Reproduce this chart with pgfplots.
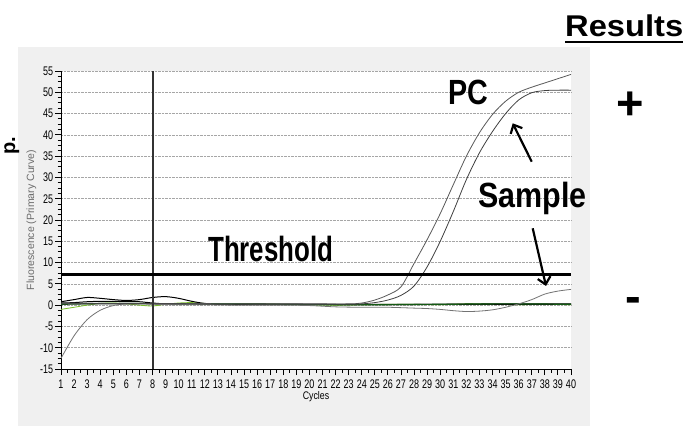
\documentclass[border=0pt]{standalone}
\usepackage{fontspec}
\setmainfont{Liberation Sans}
\usepackage{pgfplots}
\pgfplotsset{compat=1.18}
\usetikzlibrary{arrows.meta}

\definecolor{panel}{RGB}{240,240,240}
\definecolor{lgreen}{RGB}{120,190,40}
\definecolor{dgreen}{RGB}{20,90,20}

\begin{document}
\begin{tikzpicture}
\path[use as bounding box] (0pt,0pt) rectangle (696pt,426pt);
\fill[panel] (18pt,0pt) rectangle (590pt,379pt);
\begin{axis}[
    at={(61pt,57pt)}, anchor=south west,
    scale only axis, width=510pt, height=298pt,
    xmin=1, xmax=40, ymin=-15, ymax=55,
    axis lines*=left,
    axis line style={black, line width=1pt},
    axis background/.style={fill=white},
    xtick={1,...,40}, ytick={-15,-10,...,55},
    minor x tick num=1, minor y tick num=3,
    tick align=outside,
    major tick length=6pt, minor tick length=3.5pt,
    tick style={black, line width=0.9pt},
    ymajorgrids,
    grid style={gray!70, densely dotted, line width=0.6pt},
    /pgf/number format/assume math mode=true,
    tick label style={font=\fontsize{12.5}{12.5}\selectfont, xscale=0.72},
    xticklabel style={yshift=-1pt},
    yticklabel style={xshift=1pt},
    xlabel={\scalebox{0.8}[1]{Cycles}},
    xlabel style={font=\fontsize{11}{11}\selectfont, yshift=4pt},
    ylabel={Fluorescence (Primary Curve)},
    ylabel style={font=\fontsize{10.5}{10.5}\selectfont, text=gray!85!black, yshift=-2pt},
]
% baseline / negative curves
\addplot[lgreen, line width=0.8pt, smooth] coordinates {
    (1,-1.0) (2,-0.5) (3,0.0) (4,0.4) (5,0.5) (6,0.3) (7,0.0) (8,-0.2) (9,0.2)
    (10,0.5) (11,0.6) (12,0.4) (14,0.3) (16,0.3) (18,0.2) (20,0.1) (22,0.0)
    (24,0.1) (26,0.2) (28,0.2) (30,0.1) (32,0.3) (34,0.2) (36,0.1) (38,0.2) (40,0.1)
};
\addplot[black, line width=1pt, smooth] coordinates {
    (1,0.8) (2,1.3) (3,1.8) (4,1.6) (5,1.3) (6,1.1) (7,1.3) (8,1.8) (9,2.0)
    (10,1.6) (11,0.9) (12,0.4) (13,0.3) (15,0.3) (20,0.2) (25,0.1) (30,0.2)
    (35,0.3) (40,0.3)
};
\addplot[black, line width=1pt, smooth] coordinates {
    (1,0.5) (2,0.6) (3,0.8) (4,0.9) (5,0.9) (6,0.8) (7,0.8) (8,0.5) (9,0.3)
    (10,0.3) (15,0.2) (20,0.2) (25,0.2) (30,0.2) (35,0.2) (40,0.2)
};
\addplot[dgreen, line width=1.2pt, smooth] coordinates {
    (1,0.2) (5,0.4) (10,0.3) (15,0.3) (20,0.1) (25,0.1) (30,0.2) (35,0.3) (40,0.2)
};
% negative sample
\addplot[black!55, line width=0.8pt, smooth] coordinates {
    (1,-12.5) (2,-7.2) (3,-3.4) (4,-1.2) (5,-0.1) (6,0.3) (7,0.3) (8,0.2)
    (10,0.1) (12,0.1) (14,0.0) (16,0.0) (18,0.0) (20,-0.1) (22,-0.4) (24,-0.5)
    (26,-0.5) (28,-0.7) (29,-0.8) (30,-1.0) (31,-1.3) (32,-1.5) (33,-1.4)
    (34,-1.1) (35,-0.5) (36,0.3) (37,1.3) (38,2.6) (39,3.3) (40,3.7)
};
% positive control
\addplot[black!65, line width=0.8pt, smooth] coordinates {
    (1,0.5) (5,0.4) (10,0.4) (15,0.3) (20,0.3) (23,0.3) (24,0.5) (25,1.2)
    (26,2.4) (27,4.3) (28,9.8) (29,15.4) (30,21.5) (31,28.3) (32,35.0)
    (33,40.5) (34,44.8) (35,47.9) (36,50.0) (37,51.2) (38,52.2) (39,53.2) (40,54.2)
};
% positive sample
\addplot[black!75, line width=0.8pt, smooth] coordinates {
    (1,0.3) (5,0.3) (10,0.3) (15,0.2) (20,0.2) (23,0.2) (24,0.3) (25,0.6)
    (26,1.2) (27,2.3) (28,4.5) (29,9.0) (30,15.0) (31,22.0) (32,29.5)
    (33,35.8) (34,40.8) (35,45.0) (36,48.2) (37,49.9) (38,50.4) (39,50.5) (40,50.5)
};
% threshold and cycle marker
\addplot[black!80, line width=2pt] coordinates {(8,-15) (8,55)};
\addplot[black, line width=2.5pt] coordinates {(1,7.2) (40,7.2)};
\end{axis}

% annotations
\node[anchor=base west, inner sep=0pt, font=\fontsize{35}{35}\selectfont\bfseries]
    at (208pt,164pt) {\scalebox{0.74}[1]{Threshold}};
\node[anchor=base west, inner sep=0pt, font=\fontsize{35}{35}\selectfont\bfseries]
    at (448pt,321pt) {\scalebox{0.82}[1]{PC}};
\node[anchor=base west, inner sep=0pt, font=\fontsize{35}{35}\selectfont\bfseries]
    at (478pt,218pt) {\scalebox{0.87}[1]{Sample}};
\node[anchor=base west, inner sep=0pt, font=\fontsize{30}{30}\selectfont\bfseries]
    at (565pt,389pt) {\scalebox{1.09}[1]{Results}};
\draw[black, line width=2pt] (565pt,384.3pt) -- (683pt,384.3pt);
\node[anchor=base, inner sep=0pt, font=\fontsize{47}{47}\selectfont\bfseries]
    at (630.5pt,306pt) {+};
\node[anchor=base, inner sep=0pt, font=\fontsize{47}{47}\selectfont\bfseries]
    at (633pt,113.8pt) {-};
\node[anchor=base east, inner sep=0pt, rotate=90, font=\fontsize{20}{20}\selectfont\bfseries]
    at (15pt,289pt) {p.};
\draw[black, line width=2.2pt, -{Straight Barb[length=7pt,width=13pt]}]
    (531.7pt,264.3pt) -- (512.7pt,302.7pt);
\draw[black, line width=2.2pt, -{Straight Barb[length=7pt,width=13pt]}]
    (532.7pt,197.7pt) -- (546pt,140pt);
\end{tikzpicture}
\end{document}
